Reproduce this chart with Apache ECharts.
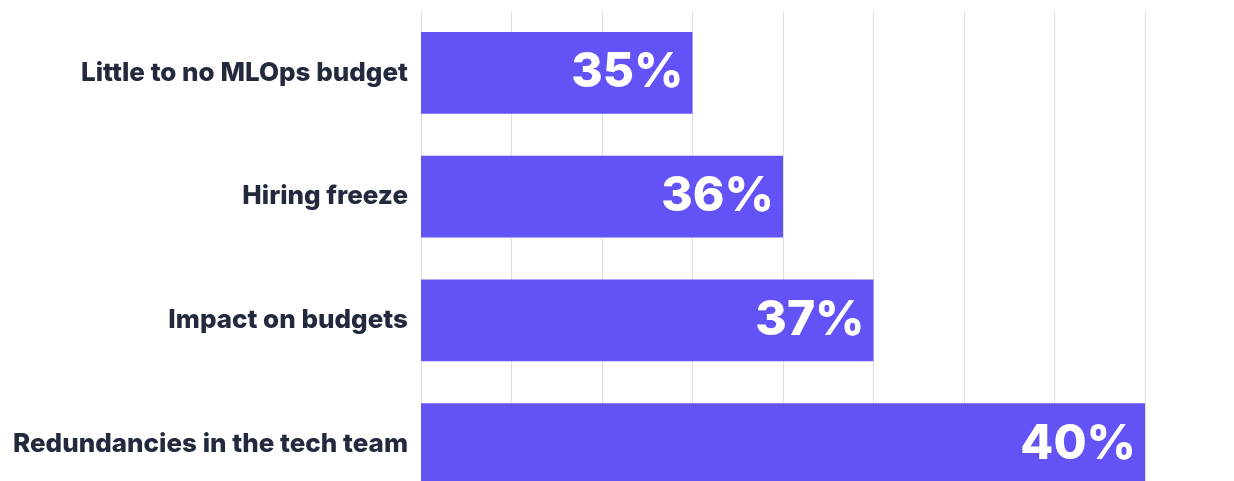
<!DOCTYPE html>
<html>
<head>
<meta charset="utf-8">
<script src="https://cdn.jsdelivr.net/npm/echarts@6/dist/echarts.min.js"></script>
<style>
  html, body { margin: 0; padding: 0; background: #fff; overflow: hidden; }
  #chart { width: 1234px; height: 506px; }
</style>
</head>
<body>
<div id="chart"></div>
<script>
// chart area runs a little past the bottom edge of the window, as in the source
var categories = ['Little to no MLOps budget', 'Hiring freeze', 'Impact on budgets', 'Redundancies in the tech team'];
var values = [35, 36, 37, 40];

var chart = echarts.init(document.getElementById('chart'));

var option = {
    animation: false,
    grid: {
        left: 421,
        right: 89,
        top: 11,
        bottom: 0
    },
    xAxis: {
        type: 'value',
        min: 32,
        max: 40,
        interval: 1,
        axisLabel: { show: false },
        axisLine: { show: false },
        axisTick: { show: false },
        splitLine: { lineStyle: { color: '#dedede', width: 1 } }
    },
    yAxis: {
        type: 'category',
        data: categories,
        inverse: true,
        axisLine: { show: false },
        axisTick: { show: false },
        axisLabel: {
            margin: 13,
            color: '#232a3e',
            fontFamily: 'Inter',
            fontWeight: 800,
            fontSize: 26
        }
    },
    series: [{
        type: 'bar',
        data: values,
        barCategoryGap: '34%',
        itemStyle: { color: '#6353f7' },
        label: {
            show: true,
            position: 'insideRight',
            distance: 9,
            formatter: '{c}%',
            color: '#ffffff',
            fontFamily: 'Inter',
            fontWeight: 800,
            fontSize: 48
        }
    }]
};

chart.setOption(option);
window.addEventListener('resize', function () {
    chart.resize();
});
</script>
</body>
</html>
